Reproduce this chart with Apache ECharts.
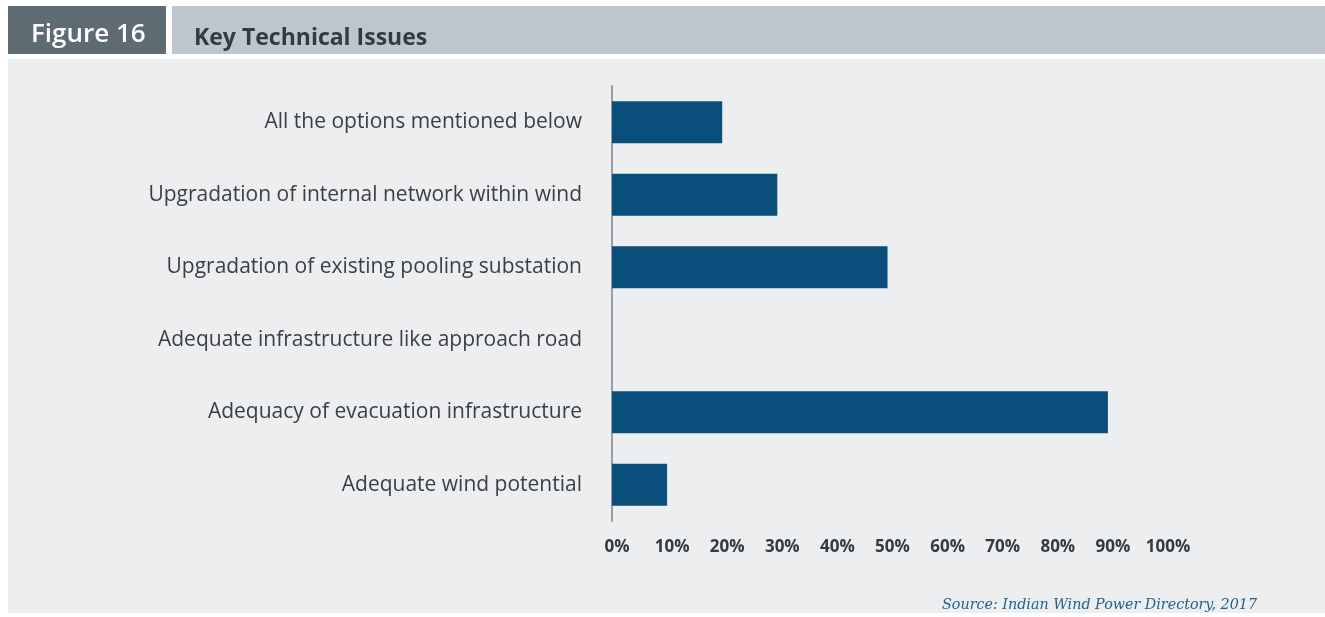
<!DOCTYPE html>
<html>
<head>
<meta charset="utf-8">
<script src="https://cdn.jsdelivr.net/npm/echarts@6/dist/echarts.min.js"></script>
<style>
  html, body { margin: 0; padding: 0; background: #ffffff; }
  #main { width: 1325px; height: 617px; }
</style>
</head>
<body>
<div id="main"></div>
<script>
// Key Technical Issues (share of respondents)
const categories = [
    'All the options mentioned below',
    'Upgradation of internal network within wind',
    'Upgradation of existing pooling substation',
    'Adequate infrastructure like approach road',
    'Adequacy of evacuation infrastructure',
    'Adequate wind potential'
];
const values = [20, 30, 50, 0, 90, 10];
const tickLabels = ['0%', '10%', '20%', '30%', '40%', '50%', '60%', '70%', '80%', '90%', '100%'];

const chart = echarts.init(document.getElementById('main'));

const option = {
    backgroundColor: '#ffffff',
    animation: false,
    graphic: [
        // header boxes
        { type: 'rect', shape: { x: 8, y: 6, width: 158, height: 48 }, style: { fill: '#5f6b73' }, silent: true },
        { type: 'rect', shape: { x: 172, y: 6, width: 1153, height: 48 }, style: { fill: '#bec6cc' }, silent: true },
        // chart background
        { type: 'rect', shape: { x: 8, y: 59, width: 1317, height: 554 }, style: { fill: '#edeef0' }, silent: true, z: -1 },
        {
            type: 'text', left: 31, top: 22,
            style: { text: 'Figure 16', fill: '#ffffff', font: '600 26px "Open Sans"' }
        },
        {
            type: 'text', left: 194, top: 27,
            style: { text: 'Key Technical Issues', fill: '#333a40', font: 'bold 23px "Open Sans"' }
        },
        {
            type: 'text', right: 68, top: 598,
            style: { text: 'Source: Indian Wind Power Directory, 2017', fill: '#23618f', font: 'italic 14.3px "DejaVu Serif"' }
        }
    ],
    grid: { left: 612, top: 86, width: 551, height: 435, containLabel: false },
    xAxis: {
        type: 'value',
        min: 0,
        max: 100,
        interval: 10,
        axisLine: { show: false },
        axisTick: { show: false },
        splitLine: { show: false },
        axisLabel: {
            margin: 18,
            padding: [0, 0, 0, 10],
            color: '#333a40',
            fontFamily: 'Open Sans',
            fontWeight: 'bold',
            fontSize: 17,
            formatter: (v) => tickLabels[Math.round(v / 10)]
        }
    },
    yAxis: {
        type: 'category',
        data: categories,
        inverse: true,
        axisLine: { show: true, lineStyle: { color: '#9a9ea2', width: 2 } },
        axisTick: { show: false },
        axisLabel: {
            margin: 30,
            color: '#3a3f44',
            fontFamily: 'Open Sans',
            fontSize: 21
        }
    },
    series: [{
        type: 'bar',
        data: values,
        barWidth: 42,
        itemStyle: { color: '#0a4f7c' }
    }]
};

chart.setOption(option);
</script>
</body>
</html>
